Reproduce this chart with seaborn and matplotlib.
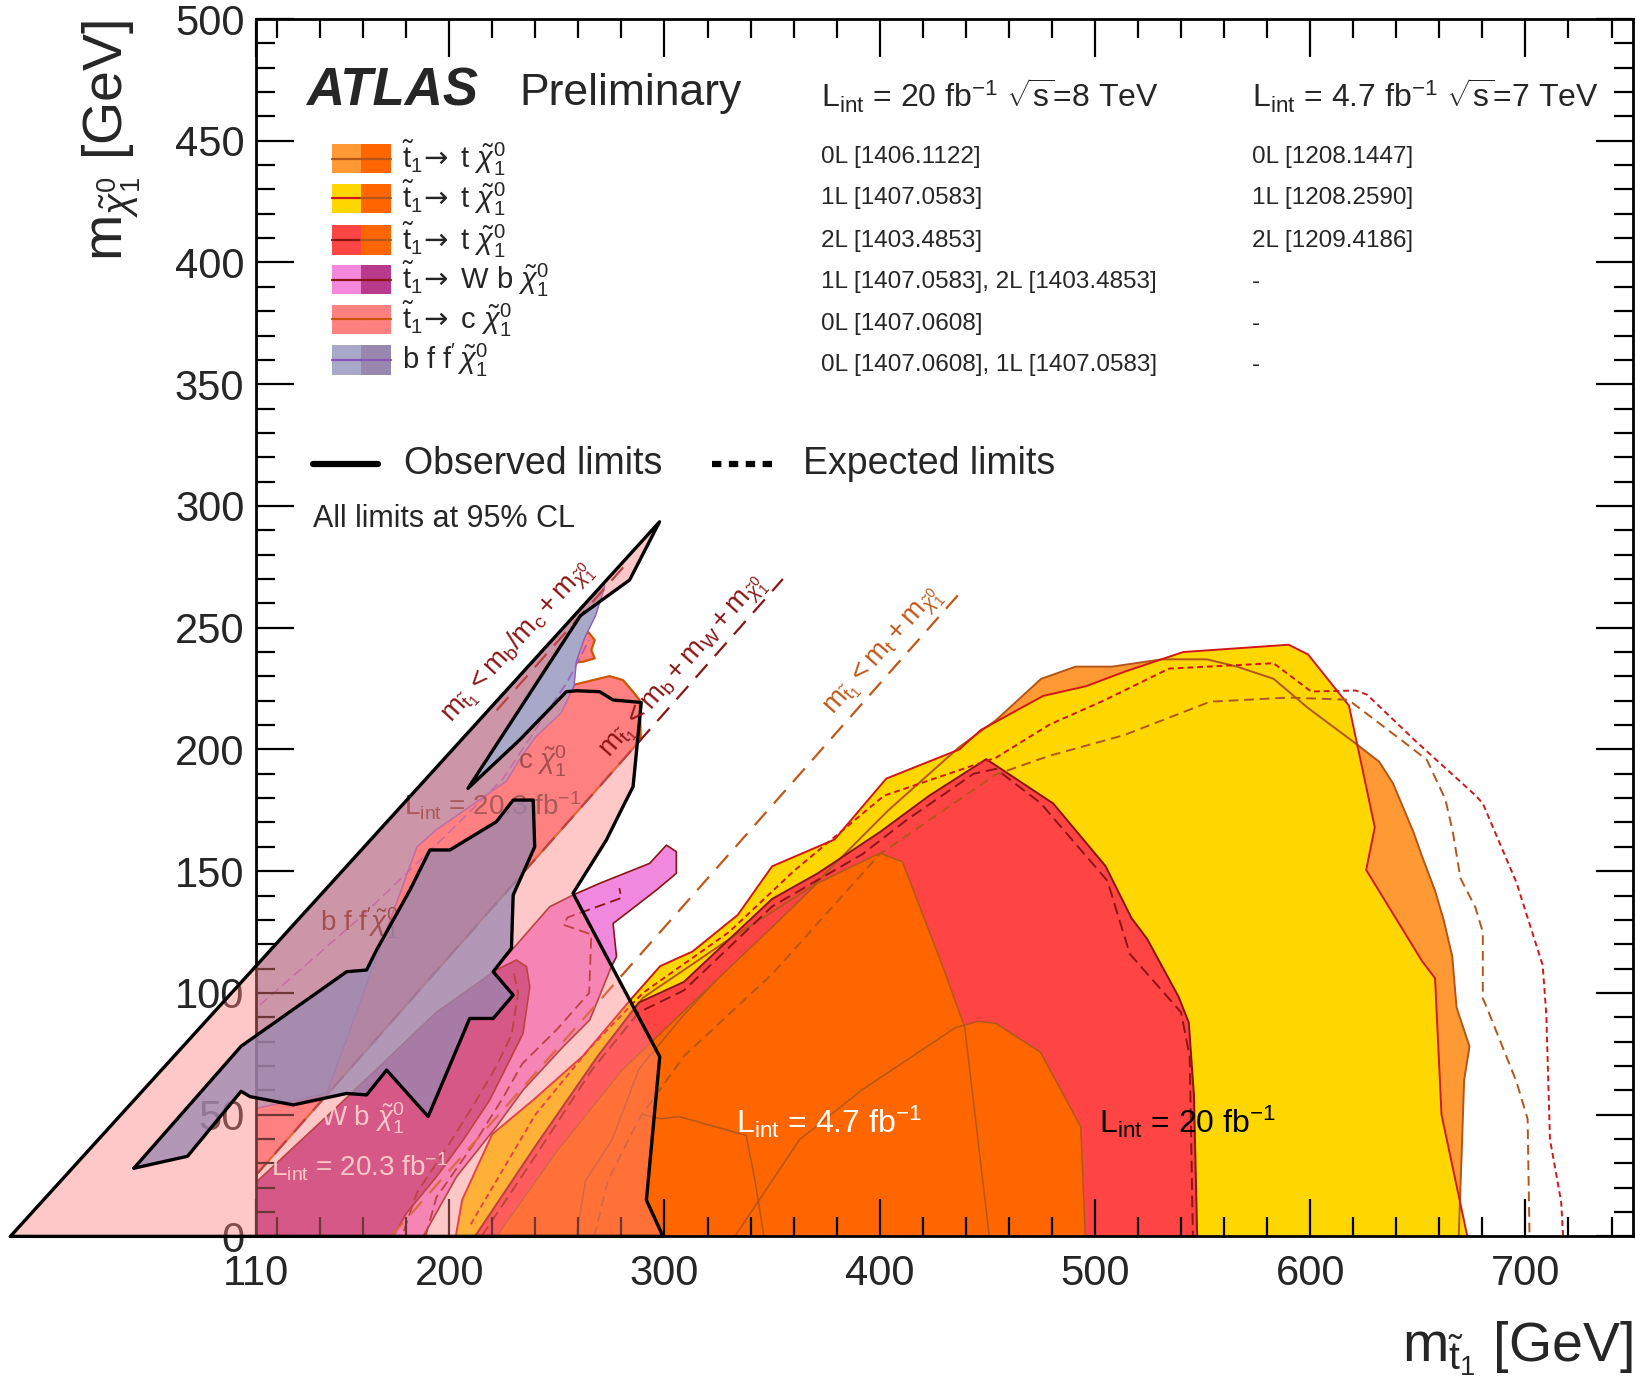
import pandas as pd
import seaborn as sns
import matplotlib.pyplot as plt
from matplotlib.patches import Rectangle
from matplotlib.lines import Line2D
from matplotlib.ticker import FixedLocator, MultipleLocator

# ---------------- data (GeV): (m_stop, m_lsp) contour points ----------------
# t1 -> t chi, 8 TeV
obs_0l_8tev = [(212, 0), (240, 37), (269, 74), (290, 98), (330, 122), (369, 144), (404, 175),
               (437, 201), (454, 212), (475, 229), (491, 234), (508, 234), (531, 237), (552, 237),
               (566, 234), (583, 229), (599, 217), (621, 202.5), (632, 195), (638.5, 186), (648, 166),
               (652, 156), (658, 142), (662, 130), (666, 115), (668, 94), (674, 78), (671.5, 64),
               (670.6, 40), (669, 0)]
obs_1l_8tev = [(203, 0), (206, 15), (220, 42), (239, 56), (262, 74), (285, 98), (298, 111), (313, 117),
               (334, 132), (350, 152), (379, 163), (403, 188), (437, 200), (447, 208), (476, 222),
               (496, 226), (514, 232), (541, 240), (590, 243), (599, 239), (618, 218), (630, 168),
               (626, 150.5), (652, 113), (658, 106), (661, 50), (673, 0)]
obs_2l_8tev = [(212, 0), (240, 37), (269, 74), (288, 96), (309, 104.5), (350, 138.6), (371, 149),
               (400, 166), (423, 181), (449.5, 196), (480.6, 177.8), (504.9, 152.1), (517, 130.7),
               (524.3, 122.1), (538.8, 98.5), (543.6, 87.8), (546, 57.8), (547.5, 0)]
exp_0l_8tev = [(267.4, 0), (273.6, 22.8), (288.2, 48.3), (308.9, 73.9), (350.3, 108), (400, 157),
               (454, 189.7), (478.9, 197.4), (513.6, 205.9), (553.5, 219.6), (590, 221.3), (617.7, 220.4),
               (645.5, 201.7), (654.2, 195.7), (662.8, 179.5), (666.3, 165.9), (669.8, 147.1),
               (676.7, 135.2), (680.2, 125), (680.2, 97.7), (681.9, 94.3), (695.8, 63.6), (701, 48.3),
               (701.9, 0)]
exp_1l_8tev = [(210, 5), (240, 50), (265, 77), (290, 100), (330, 125), (360, 150), (402, 181),
               (454, 196.6), (478.9, 210.2), (504.9, 220.4), (534.4, 233.2), (583, 235.4), (600.4, 223.8),
               (621.2, 224.2), (626.4, 222.5), (649, 203.4), (676.7, 181.2), (680.2, 177.8), (695.8, 145.4),
               (708, 111.4), (709.7, 91), (711.4, 39.8), (716.6, 14.2), (717.5, 0)]
exp_2l_8tev = [(215, 0), (240, 33), (266, 68), (288, 92), (309, 101), (350, 135.5), (392, 157),
               (412.5, 171), (443.6, 190), (454, 192), (474.7, 178), (505.8, 146), (516.2, 116),
               (540, 92), (544, 73.9), (545.5, 0)]

# t1 -> t chi, 7 TeV
obs_a_7tev = [(222, 0), (250, 35), (280, 68), (300, 85), (325, 106), (350, 127), (371, 145),
              (400, 157.4), (410.5, 153.9), (429.1, 111.3), (439.5, 85.8), (450.9, 0)]
obs_b_7tev = [(332.7, 0), (362.8, 39.8), (391.8, 60.2), (435.3, 85.8), (445.7, 88.3), (454, 87.5),
              (474.7, 75.6), (493.4, 45), (495.5, 0)]
obs_c_7tev = [(290, 50), (298.5, 48.3), (306.8, 49.2), (337.9, 41.5), (342.1, 22.8), (346.2, 0)]
obs_d_7tev = [(259, 0), (263.3, 22.8), (275.7, 39.8), (288.2, 68.8), (308.9, 90.9), (323.4, 104.5)]

# t1 -> W b chi, 8 TeV
obs_wb_1l = [(113, 0), (225, 113.5), (246.7, 135.4), (257.5, 140.2), (269.9, 145), (293.1, 153.2),
             (300.9, 160.7), (305.5, 158), (305.5, 149.1), (296.2, 142.2), (282.3, 132.7), (276.1, 128.5),
             (277.7, 114.9), (275.3, 110.7), (265.3, 88.9), (252.9, 77.9), (234.3, 60.1), (221.9, 45.1),
             (203.4, 24.5), (187.9, 0)]
exp_wb_1l = [(189, 0), (194, 16), (213, 40), (225, 57), (234, 71), (250, 85), (265, 100), (266, 124),
             (253, 128), (255, 131), (280, 139), (279, 143)]
obs_wb_2l = [(110, 0), (110, 22), (150, 55), (194, 92), (222, 109.5), (231.2, 113.5), (235.9, 110.8),
             (237.4, 102.5), (234.3, 83.4), (228.1, 72.4), (218.8, 56), (206.5, 39.6), (194.1, 24.5),
             (180.1, 9.5), (174, 0)]
exp_wb_2l = [(230, 108), (232, 100), (229, 83), (222, 70), (212, 55), (200, 38), (185, 18), (178, 0)]

# t1 -> c chi, 8 TeV
obs_cc_tag = [(110, 25), (289, 204), (288.4, 220.3), (285.4, 223.7), (280.7, 228.5), (274.5, 230.1),
              (254.4, 225.8), (249, 227.1), (245.9, 228.5), (247.4, 232.6), (252.9, 235.3), (262.1, 236),
              (267.6, 237.4), (266, 240.8), (267.6, 244.9), (264.5, 248.3), (255, 238), (240, 215),
              (200, 178), (150, 125), (110, 80)]
obs_cc_mono = [(-3.9, 0), (297.7, 293.5), (283.8, 269.6), (261, 255), (249, 238.7), (208.7, 184),
               (232.7, 203.9), (254.4, 223.7), (259.1, 224.1), (269.9, 223.7), (276.1, 220.3),
               (289.2, 219.3), (285.4, 184.7), (280.7, 176.5), (273, 162.8), (257.5, 140.9),
               (297.8, 73.8), (291.6, 14.9), (299.3, 0)]

# t1 -> b f f' chi, 8 TeV
obs_4b_0l = [(55, 57.2), (272, 268.2), (272.2, 266.8), (268, 255), (263, 246), (259, 236), (258, 226),
             (252, 215), (240, 205), (232, 195), (226.6, 187), (194, 167), (185, 160), (143, 58.7),
             (107, 52), (62, 34)]
exp_4b_0l = [(112, 95), (160, 132), (200, 166), (225, 188), (240, 208), (255, 228), (265, 245)]
obs_4b_1l = [(53.5, 28), (103.3, 78.1), (146.9, 105.3), (152.3, 108.7), (161.6, 109.4), (166.2, 117.6),
             (181.7, 142.2), (191, 158.7), (200.3, 158.7), (221.9, 170.3), (229.7, 179.2), (239, 179.2),
             (239.7, 160), (229.7, 140.2), (228.9, 118.3), (220.4, 108.7), (229.7, 99.1), (220.4, 89.5),
             (209.5, 89.5), (190.2, 49.2), (170.9, 68.3), (161.6, 58.1), (152.3, 58.7), (127.5, 54),
             (107.4, 57.4), (103.3, 59.6), (78.4, 32.9)]

# kinematic limits
kin_bc = [(222, 216), (283, 277)]
kin_bw = [(110, 25), (355, 270)]
kin_t = [(173, 0), (437, 264)]

x_ticks = [110, 200, 300, 400, 500, 600, 700]
legend_rows = ["0L [1406.1122]", "1L [1407.0583]", "2L [1403.4853]",
               "1L [1407.0583], 2L [1403.4853]", "0L [1407.0608]", "0L [1407.0608], 1L [1407.0583]"]
legend_rows_7tev = ["0L [1208.1447]", "1L [1208.2590]", "2L [1209.4186]", "-", "-", "-"]

# ---------------------------------------------------------------------------
sns.set_theme(style="ticks")
plt.rcParams["font.family"] = ["Liberation Sans", "DejaVu Sans"]
plt.rcParams["mathtext.fontset"] = "custom"
plt.rcParams["mathtext.rm"] = "Liberation Sans"
plt.rcParams["mathtext.it"] = "Liberation Sans:italic"
plt.rcParams["mathtext.bf"] = "Liberation Sans:bold"
plt.rcParams["mathtext.sf"] = "DejaVu Sans"

fig = plt.figure(figsize=(16.36, 13.87), dpi=100)
ax = fig.add_axes([0.1562, 0.1086, 0.842, 0.8777])


def region(pts, face, edge=None, lw=1.3, z=1.0, alpha=1.0, clip=True):
    xs, ys = zip(*pts)
    ax.fill(xs, ys, facecolor=face, edgecolor="none", alpha=alpha, zorder=z, clip_on=clip)
    if edge is not None:
        outline(pts, edge, lw=lw, z=z + 0.05, close=True, clip=clip)


def outline(pts, color, lw=1.3, ls="-", z=2.0, close=False, clip=True):
    if close:
        pts = list(pts) + [pts[0]]
    df = pd.DataFrame(pts, columns=["m_stop", "m_lsp"])
    sns.lineplot(data=df, x="m_stop", y="m_lsp", sort=False, estimator=None, color=color,
                 lw=lw, linestyle=ls, zorder=z, ax=ax, clip_on=clip)


brown = "#B3561A"
red_line = "#D01818"
dark_red = "#8B1515"

# t -> t chi regions
region(obs_0l_8tev, "#FF9933", z=1.0)
region(obs_1l_8tev, "#FFD700", z=1.1)
region(obs_2l_8tev, "#FF4444", z=1.2)
region(obs_a_7tev, "#FF6600", z=1.3)
region(obs_b_7tev, "#FF6600", z=1.3)
outline(obs_0l_8tev, brown, lw=1.4, z=1.4)
outline(obs_1l_8tev, red_line, lw=1.4, z=1.41)
outline(obs_2l_8tev, dark_red, lw=1.4, z=1.42)
outline(obs_a_7tev, brown, lw=1.1, z=1.43)
outline(obs_b_7tev, brown, lw=1.1, z=1.43)
outline(obs_c_7tev, brown, lw=1.1, z=1.43)
outline(obs_d_7tev, brown, lw=1.1, z=1.43)

# W b chi, c chi, b f f' chi
region(obs_wb_1l, "#F088DD", edge=dark_red, lw=1.2, z=1.5)
region(obs_wb_2l, "#B83A8C", edge=dark_red, lw=1.2, z=1.6)
region(obs_cc_tag, "#FF8080", edge="#CC5500", lw=1.6, z=1.7)
region(obs_4b_0l, "#A8A8C8", edge="#9060C0", lw=1.1, z=1.8)

# expected limits
outline(exp_0l_8tev, brown, lw=1.4, ls=(0, (5, 3)), z=1.9)
outline(exp_1l_8tev, red_line, lw=1.4, ls=(0, (3, 2)), z=1.9)
outline(exp_2l_8tev, dark_red, lw=1.4, ls=(0, (6, 3)), z=1.9)
outline(exp_wb_1l, dark_red, lw=1.3, ls=(0, (6, 3)), z=1.9)
outline(exp_wb_2l, dark_red, lw=1.3, ls=(0, (6, 3)), z=1.9)
outline(exp_4b_0l, "#A060C0", lw=1.2, ls=(0, (6, 3)), z=1.9)

# kinematic boundaries
outline(kin_bc, dark_red, lw=1.6, ls=(0, (8, 5)), z=1.95)
outline(kin_bw, dark_red, lw=1.6, ls=(0, (8, 5)), z=1.95)
outline(kin_t, "#C0581A", lw=1.6, ls=(0, (8, 5)), z=1.95)

# labels under the c chi overlay
inner = dict(fontsize=20, zorder=2.9, va="center", ha="left")
ax.text(232, 195, r"$\mathrm{c}\ \tilde{\chi}^{0}_{1}$", color="#5A2A2A", **inner)
ax.text(179, 177, r"$\mathrm{L_{int}}$ = 20.3 fb$^{-1}$", color="#6A3A3A", **inner)
ax.text(140, 128.5, r"$\mathrm{b\ f\ f}^{\prime}\tilde{\chi}^{0}_{1}$", color="#5A2A2A", **inner)
ax.text(140, 48.4, r"$\mathrm{W\ b}\ \tilde{\chi}^{0}_{1}$", color="white", **inner)
ax.text(117, 28.7, r"$\mathrm{L_{int}}$ = 20.3 fb$^{-1}$", color="white", **inner)

# c chi (monojet) region overlay and b f f' 1L region
region(obs_cc_mono, "#FF8080", alpha=0.43, z=3.0, clip=False)
region(obs_4b_1l, "#9888B0", alpha=0.75, z=3.2, clip=False)
outline(obs_cc_mono, "black", lw=2.4, z=4, close=True, clip=False)
outline(obs_4b_1l, "black", lw=2.4, z=4, close=True, clip=False)

# kinematic labels
kin_kw = dict(fontsize=20, ha="center", va="center", rotation_mode="anchor", zorder=5)
ax.text(232, 244, r"$\mathrm{m}_{\tilde{\mathrm{t}}_{1}} < \mathrm{m_{b}/m_{c} + m}_{\tilde{\chi}^{0}_{1}}$",
        color=dark_red, rotation=47.7, **kin_kw)
ax.text(309, 233.5, r"$\mathrm{m}_{\tilde{\mathrm{t}}_{1}} < \mathrm{m_{b} + m_{W} + m}_{\tilde{\chi}^{0}_{1}}$",
        color=dark_red, rotation=48.5, **kin_kw)
ax.text(402, 240, r"$\mathrm{m}_{\tilde{\mathrm{t}}_{1}} < \mathrm{m_{t} + m}_{\tilde{\chi}^{0}_{1}}$",
        color="#C0581A", rotation=48.5, **kin_kw)

ax.text(333, 47, r"$\mathrm{L_{int}}$ = 4.7 fb$^{-1}$", color="white", fontsize=23,
        va="center", ha="left", zorder=5)
ax.text(502, 47, r"$\mathrm{L_{int}}$ = 20 fb$^{-1}$", color="black", fontsize=23,
        va="center", ha="left", zorder=5)

# axes
ax.set_xlim(110, 750)
ax.set_ylim(0, 500)
ax.set(xlabel="", ylabel="")
ax.xaxis.set_major_locator(FixedLocator(x_ticks))
ax.xaxis.set_minor_locator(FixedLocator([v for v in range(120, 760, 20) if v % 100 != 0]))
ax.yaxis.set_major_locator(MultipleLocator(50))
ax.yaxis.set_minor_locator(MultipleLocator(10))
ax.tick_params(which="both", direction="in", top=True, right=True, width=1.6, color="black")
ax.tick_params(which="major", length=27, labelsize=30)
ax.tick_params(which="minor", length=14)
ax.tick_params(axis="x", pad=13)
ax.tick_params(axis="y", pad=8)
ax.xaxis.set_zorder(2.0)
ax.yaxis.set_zorder(2.0)
for s in ax.spines.values():
    s.set_linewidth(2)
    s.set_color("black")
ax.set_facecolor("white")

fig.text(0.998, 0.028, r"$\mathrm{m}_{\tilde{\mathrm{t}}_{1}}$ [GeV]", ha="right", va="center", fontsize=40)
fig.text(0.068, 0.986, r"$\mathrm{m}_{\tilde{\chi}^{0}_{1}}$ [GeV]", ha="center", va="top",
         rotation=90, fontsize=40)


# legend and header text (shrunk-image coordinates -> figure fraction)
def fx(x):
    return x / 1568


def fy(y):
    return 1 - y / 1329


fig.text(fx(293), fy(88), "ATLAS", fontsize=38, fontweight="bold", fontstyle="italic", va="center")
fig.text(fx(498), fy(90), "Preliminary", fontsize=32, va="center")
fig.text(fx(787), fy(92), r"$\mathrm{L_{int}}$ = 20 fb$^{-1}$ $\sqrt{\mathrm{s}}$=8 TeV", fontsize=23, va="center")
fig.text(fx(1200), fy(92), r"$\mathrm{L_{int}}$ = 4.7 fb$^{-1}$ $\sqrt{\mathrm{s}}$=7 TeV", fontsize=23, va="center")

row_y = [150, 190, 231, 270, 310, 350]
for yy, t8, t7 in zip(row_y, legend_rows, legend_rows_7tev):
    fig.text(fx(787), fy(yy), t8, fontsize=17.5, va="center")
    fig.text(fx(1200), fy(yy), t7, fontsize=17.5, va="center")

swatches = [("#FF9933", "#FF6600", brown, brown),
            ("#FFD700", "#FF6600", red_line, brown),
            ("#FF4444", "#FF6600", dark_red, brown),
            ("#F588DD", "#B83A8C", dark_red, dark_red),
            ("#FF8080", "#FF8080", "#CC5500", "#CC5500"),
            ("#A8A8C8", "#9888B0", "#8855BB", "#8855BB")]
arrow = r"\!\mathsf{\rightarrow}"
sw_labels = [r"$\tilde{\mathrm{t}}_{1}" + arrow + r"\mathrm{\ t\ }\tilde{\chi}^{0}_{1}$"] * 3 + [
    r"$\tilde{\mathrm{t}}_{1}" + arrow + r"\mathrm{\ W\ b\ }\tilde{\chi}^{0}_{1}$",
    r"$\tilde{\mathrm{t}}_{1}" + arrow + r"\mathrm{\ c\ }\tilde{\chi}^{0}_{1}$",
    r"$\mathrm{b\ f\ f}^{\prime}\,\tilde{\chi}^{0}_{1}$"]
sw_y = [152, 190, 230, 268, 306, 345]
for yy, (c1, c2, l1, l2), lab in zip(sw_y, swatches, sw_labels):
    fig.patches.append(Rectangle((fx(318), fy(yy + 14)), fx(28), 28 / 1329, facecolor=c1,
                                 edgecolor="none", transform=fig.transFigure))
    fig.patches.append(Rectangle((fx(346), fy(yy + 14)), fx(29), 28 / 1329, facecolor=c2,
                                 edgecolor="none", transform=fig.transFigure))
    fig.lines.append(Line2D([fx(318), fx(346)], [fy(yy), fy(yy)], color=l1, lw=1.6,
                            transform=fig.transFigure))
    fig.lines.append(Line2D([fx(346), fx(375)], [fy(yy), fy(yy)], color=l2, lw=1.6,
                            transform=fig.transFigure))
    fig.text(fx(385), fy(yy), lab, fontsize=21, va="center")

fig.lines.append(Line2D([fx(300), fx(362)], [fy(445), fy(445)], color="black", lw=4.5,
                        transform=fig.transFigure))
fig.text(fx(387), fy(445), "Observed limits", fontsize=27, va="center")
fig.lines.append(Line2D([fx(682), fx(740)], [fy(445), fy(445)], color="black", lw=4.5,
                        ls=(0, (1.5, 1.2)), transform=fig.transFigure))
fig.text(fx(770), fy(445), "Expected limits", fontsize=27, va="center")
fig.text(fx(300), fy(497), "All limits at 95% CL", fontsize=22, va="center")

fig.savefig("out.png", dpi=100)
